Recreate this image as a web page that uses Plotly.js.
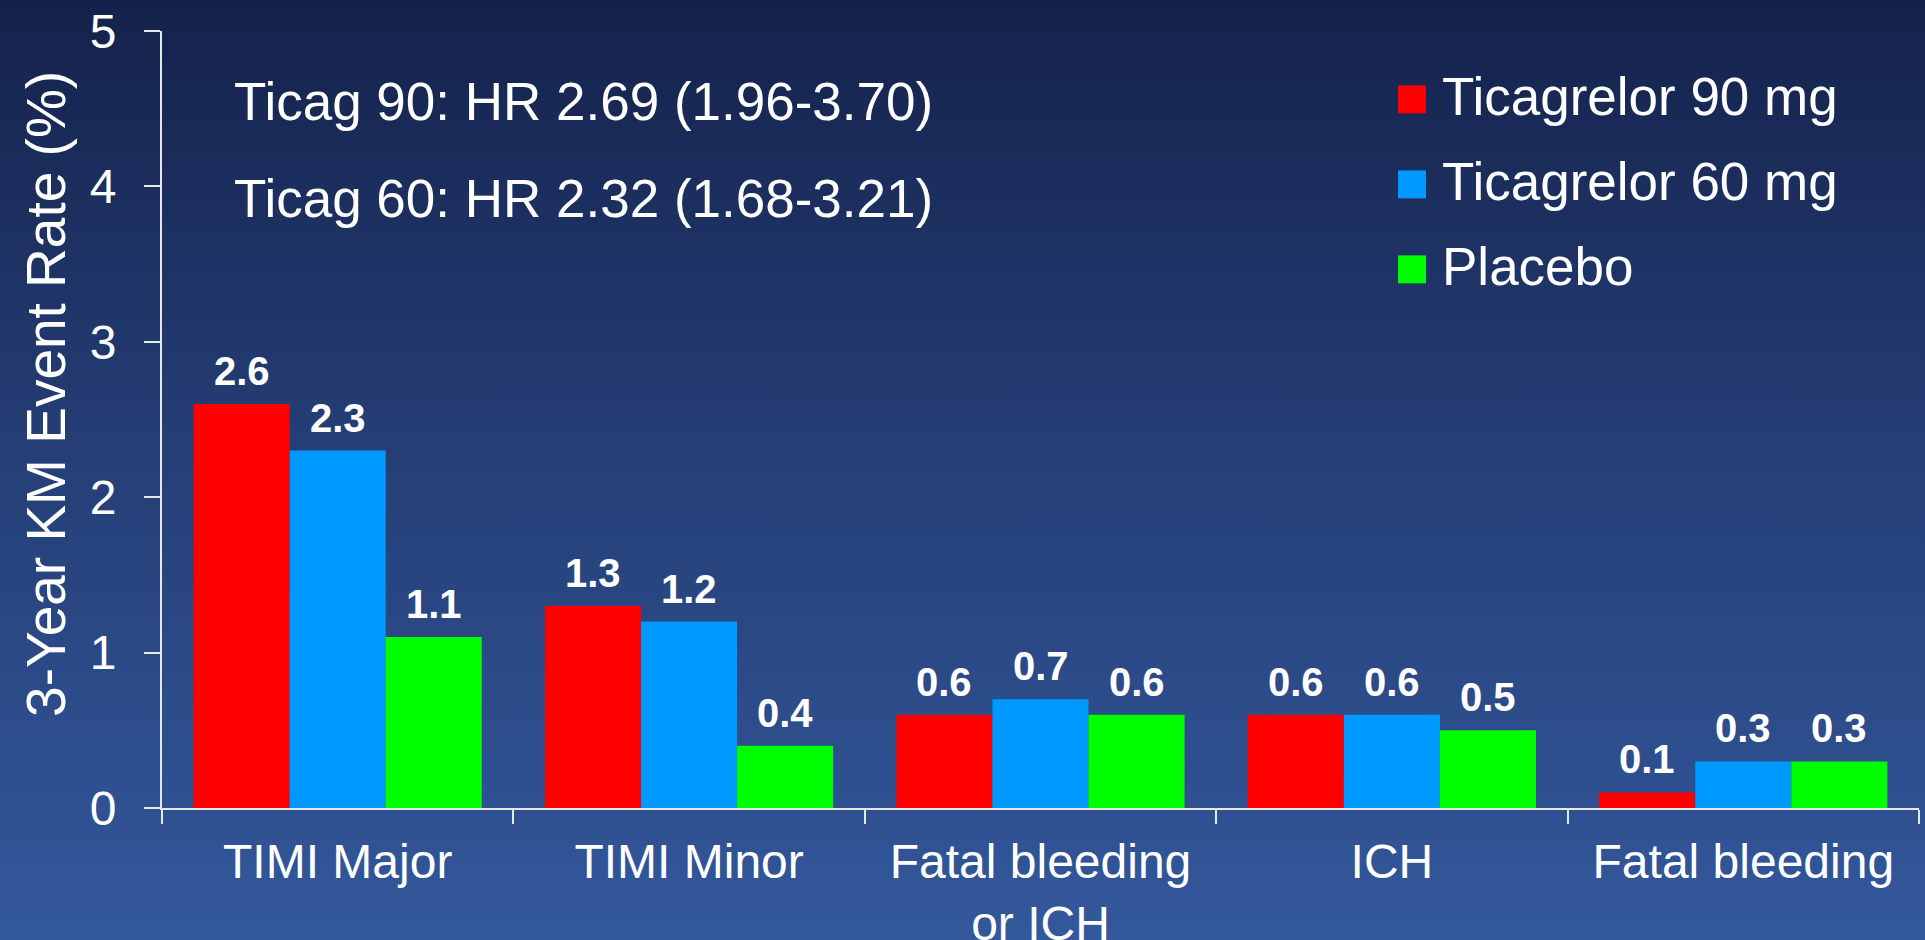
<!DOCTYPE html>
<html>
<head>
<meta charset="utf-8">
<script src="https://cdn.plot.ly/plotly-3.0.1.min.js"></script>
<style>
  html, body { margin: 0; padding: 0; overflow: hidden; }
  body { width: 1925px; height: 940px; background: linear-gradient(to bottom, #14224b 0%, #243d74 45%, #33589c 100%); }
  #chart { width: 1925px; height: 940px; }
</style>
</head>
<body>
<div id="chart"></div>
<script>
// ---- data ----
const categories = ['TIMI Major', 'TIMI Minor', 'Fatal bleeding<br>or ICH', 'ICH', 'Fatal bleeding'];
const seriesNames = ['Ticagrelor 90 mg', 'Ticagrelor 60 mg', 'Placebo'];
const ticag90 = [2.6, 1.3, 0.6, 0.6, 0.1];
const ticag60 = [2.3, 1.2, 0.7, 0.6, 0.3];
const placebo = [1.1, 0.4, 0.6, 0.5, 0.3];
const seriesColors = ['#ff0000', '#0099ff', '#00ff00'];
const hrLines = ['Ticag 90: HR 2.69 (1.96-3.70)', 'Ticag 60: HR 2.32 (1.68-3.21)'];
const yTickVals = [0, 1, 2, 3, 4, 5];
const yTitle = '3-Year KM Event Rate (%)';

// ---- build ----
const FONT = 'Liberation Sans, Arial, sans-serif';
const seriesValues = [ticag90, ticag60, placebo];
const W = 1925, H = 940;
const margin = { l: 162, r: 6, t: 31, b: 132 };
const bargap = 0.18;
const plotW = W - margin.l - margin.r;
const barPx = plotW / categories.length * (1 - bargap) / seriesNames.length;

const traces = seriesValues.map((vals, i) => ({
  type: 'bar',
  name: seriesNames[i],
  x: categories,
  y: vals,
  marker: { color: seriesColors[i], line: { width: 0 } },
  hoverinfo: 'skip',
  showlegend: false
}));

const annotations = [];
const shapes = [];

// value labels above each bar
seriesValues.forEach((vals, i) => {
  vals.forEach((v, j) => {
    annotations.push({
      xref: 'x', yref: 'y',
      x: categories[j], y: v,
      xshift: (i - (seriesNames.length - 1) / 2) * barPx,
      yshift: 9,
      xanchor: 'center', yanchor: 'bottom',
      text: v.toFixed(1), showarrow: false,
      font: { family: FONT, size: 40, color: '#ffffff', weight: 'bold' }
    });
  });
});

hrLines.forEach((t, i) => {
  annotations.push({
    xref: 'paper', yref: 'paper',
    x: 0.040, y: 0.909 - i * 0.1245,
    xanchor: 'left', yanchor: 'middle',
    text: t, showarrow: false,
    font: { family: FONT, size: 53, color: '#ffffff' }
  });
});

seriesNames.forEach((n, i) => {
  const yc = 0.912 - i * 0.1094;
  shapes.push({
    type: 'rect', xref: 'paper', yref: 'paper',
    x0: 0.7035, x1: 0.7194, y0: yc - 0.018, y1: yc + 0.018,
    fillcolor: seriesColors[i], line: { width: 0 }
  });
  annotations.push({
    xref: 'paper', yref: 'paper',
    x: 0.7274, y: yc + 0.004,
    xanchor: 'left', yanchor: 'middle',
    text: n, showarrow: false,
    font: { family: FONT, size: 53, color: '#ffffff' }
  });
});

// y-axis title
annotations.push({
  xref: 'paper', yref: 'paper',
  x: -0.066, y: 0.533,
  xanchor: 'center', yanchor: 'middle',
  textangle: -90,
  text: yTitle, showarrow: false,
  font: { family: FONT, size: 55, color: '#ffffff' }
});

const layout = {
  width: W, height: H,
  paper_bgcolor: 'rgba(0,0,0,0)',
  plot_bgcolor: 'rgba(0,0,0,0)',
  margin: margin,
  barmode: 'group',
  bargap: bargap,
  bargroupgap: 0,
  showlegend: false,
  font: { family: FONT, color: '#ffffff' },
  xaxis: {
    type: 'category',
    tickson: 'boundaries',
    ticks: 'outside', ticklen: 14, tickwidth: 2, tickcolor: '#e8e8e8',
    showline: true, linecolor: '#e8e8e8', linewidth: 2,
    showgrid: false, zeroline: false,
    tickfont: { family: FONT, size: 48, color: '#ffffff' },
    ticklabelstandoff: 10
  },
  yaxis: {
    range: [0, 5],
    tickvals: yTickVals,
    ticktext: yTickVals.map(String),
    ticks: 'outside', ticklen: 16, tickwidth: 2, tickcolor: '#e8e8e8',
    showline: true, linecolor: '#e8e8e8', linewidth: 2,
    showgrid: false, zeroline: false,
    tickfont: { family: FONT, size: 48, color: '#ffffff' },
    ticklabelstandoff: 18
  },
  annotations: annotations,
  shapes: shapes
};

Plotly.newPlot('chart', traces, layout, { staticPlot: true, displayModeBar: false });
</script>
</body>
</html>
